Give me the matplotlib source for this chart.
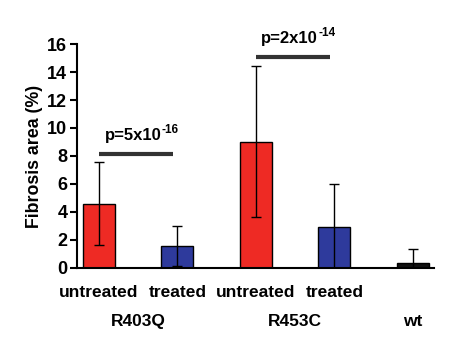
import matplotlib
matplotlib.use("Agg")
import matplotlib.pyplot as plt

categories = ["untreated", "treated", "untreated", "treated", ""]
groups = ["R403Q", "R453C", "wt"]
values = [4.6, 1.55, 9.0, 2.9, 0.33]
err_low = [2.95, 1.4, 5.35, 2.9, 0.33]
err_high = [2.95, 1.45, 5.4, 3.1, 1.0]
colors = ["#EE2A24", "#2E3A9C", "#EE2A24", "#2E3A9C", "#111111"]
p_base = ["p=5x10", "p=2x10"]
p_exp = ["-16", "-14"]
sig_y = [8.15, 15.1]
yticks = [0, 2, 4, 6, 8, 10, 12, 14, 16]

plt.rcParams['font.family'] = ['Liberation Sans', 'DejaVu Sans']
plt.rcParams['font.weight'] = 'bold'

fig = plt.figure(figsize=(4.74, 3.43), dpi=100)
ax = fig.add_axes([0.1624, 0.2187, 0.7532, 0.653])

x = list(range(len(values)))
ax.bar(x, values, width=0.41, color=colors, edgecolor="black", linewidth=1.0, zorder=2)
ax.errorbar(x, values, yerr=[err_low, err_high], fmt="none", ecolor="black",
            elinewidth=1.0, capsize=3.5, capthick=1.0, zorder=3)

ax.set_xlim(-0.28, 4.27)
ax.set_ylim(0, 16)
ax.set_yticks(yticks)
ax.tick_params(axis="y", direction="out", length=5, width=1.5, labelsize=13, pad=2)
ax.tick_params(axis="x", length=0, labelsize=12.5, pad=12)
ax.set_xticks(x[:4])
ax.set_xticklabels(categories[:4], fontweight="bold")
for lab in ax.get_yticklabels():
    lab.set_fontweight("bold")

for s in ["top", "right"]:
    ax.spines[s].set_visible(False)
ax.spines["left"].set_linewidth(1.5)
ax.spines["bottom"].set_linewidth(1.5)

ax.set_ylabel("Fibrosis area (%)", fontsize=12.8, fontweight="bold", labelpad=3)

# significance bars
pairs = [(0, 1), (2, 3)]
for (a, b), yv, pb, pe in zip(pairs, sig_y, p_base, p_exp):
    ax.plot([a, b - 0.06], [yv, yv], color="#333333", linewidth=3, clip_on=False, solid_capstyle="butt")
    t = ax.text(a + 0.07, yv + 1.0, pb, ha="left", va="baseline", fontsize=12,
                fontweight="bold", clip_on=False)
    ax.annotate(pe, xy=(1, 1), xycoords=t, xytext=(0.5, 2.5), textcoords="offset points",
                ha="left", va="top", fontsize=8.5, fontweight="bold", annotation_clip=False)

# group labels
group_pos = [0.5, 2.5, 4]
for gp, g in zip(group_pos, groups):
    ax.text(gp, -3.85, g, ha="center", va="center", fontsize=12.5, fontweight="bold")

fig.savefig("out.png", dpi=100)
